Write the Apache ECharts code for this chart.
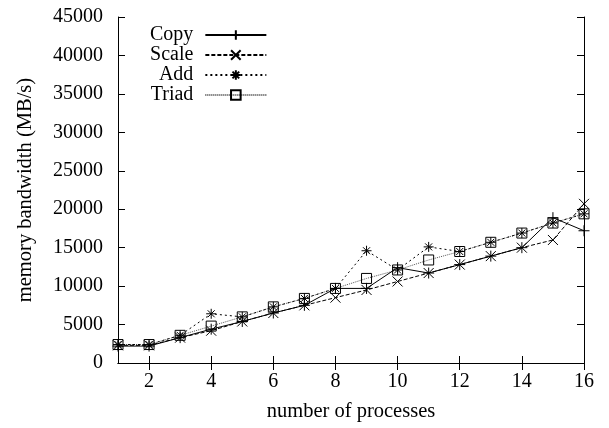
<!DOCTYPE html>
<html>
<head>
<meta charset="utf-8">
<script src="https://cdn.jsdelivr.net/npm/echarts@6/dist/echarts.min.js"></script>
<style>
html, body { margin: 0; padding: 0; background: #fff; }
#chart { width: 609px; height: 428px; }
</style>
</head>
<body>
<div id="chart"></div>
<script>
// 数据
var procs = ['1', '2', '3', '4', '5', '6', '7', '8', '9', '10', '11', '12', '13', '14', '15', '16'];
var copyData  = [2200, 2200, 3300, 4400, 5400, 6500, 7500, 9700, 9700, 12400, 11700, 12800, 13900, 15000, 18900, 17200];
var scaleData = [2300, 2300, 3300, 4200, 5400, 6500, 7500, 8500, 9500, 10600, 11700, 12800, 13900, 15000, 16000, 20700];
var addData   = [2400, 2400, 3600, 6400, 6000, 7300, 8400, 9700, 14600, 12100, 15100, 14500, 15700, 16900, 18200, 19400];
var triadData = [2400, 2400, 3600, 4800, 6000, 7300, 8400, 9700, 11000, 12100, 13400, 14500, 15700, 16900, 18200, 19400];

var chart = echarts.init(document.getElementById('chart'));
var FONT = 'Liberation Serif';
var FS = 20;

// 点的形状 (gnuplot 风格)
var SYM_PLUS  = 'path://M5,0L5,10M0,5L10,5';
var SYM_CROSS = 'path://M0,0L10,10M10,0L0,10';
var SYM_STAR  = 'path://M5,0L5,10M0,5L10,5M1.5,1.5L8.5,8.5M8.5,1.5L1.5,8.5';
var SYM_BOX   = 'path://M0,0L10,0L10,10L0,10Z';

function evenOnly(index, value) {
  return (index + 1) % 2 === 0;
}

function makeSeries(name, data, symbol, size, lineStyle) {
  return {
    name: name,
    type: 'line',
    data: data,
    symbol: symbol,
    symbolSize: size,
    showAllSymbol: true,
    itemStyle: { color: 'rgba(0,0,0,0)', borderColor: '#000', borderWidth: 1 },
    lineStyle: lineStyle,
    emphasis: { disabled: true }
  };
}

var option = {
  animation: false,
  backgroundColor: '#fff',
  grid: { left: 118, right: 25, top: 17, bottom: 65 },
  legend: {
    orient: 'vertical',
    left: 145,
    top: 20,
    align: 'right',
    itemWidth: 61,
    itemHeight: 12,
    itemGap: 0,
    data: ['Copy', 'Scale', 'Add', 'Triad'],
    formatter: function (name) { return '{a|' + name + '}'; },
    textStyle: {
      fontFamily: FONT,
      fontSize: FS,
      color: '#000',
      rich: { a: { fontFamily: FONT, fontSize: FS, color: '#000', width: 48, align: 'right', padding: [0, 7, 0, 0] } }
    }
  },
  xAxis: [
    {
      type: 'category',
      data: procs,
      boundaryGap: false,
      name: 'number of processes',
      nameLocation: 'middle',
      nameGap: 38,
      nameTextStyle: { fontFamily: FONT, fontSize: 20.5, color: '#000' },
      axisLine: { lineStyle: { color: '#000', width: 1 } },
      axisTick: { inside: true, length: 7, interval: evenOnly, lineStyle: { color: '#000' } },
      axisLabel: { interval: evenOnly, margin: 9, fontFamily: FONT, fontSize: FS, color: '#000' },
      splitLine: { show: false }
    },
    {
      type: 'category',
      data: procs,
      boundaryGap: false,
      position: 'top',
      axisLine: { lineStyle: { color: '#000', width: 1 } },
      axisTick: { inside: true, length: 7, interval: evenOnly, lineStyle: { color: '#000' } },
      axisLabel: { show: false },
      splitLine: { show: false }
    }
  ],
  yAxis: [
    {
      type: 'value',
      min: 0,
      max: 45000,
      interval: 5000,
      name: 'memory bandwidth (MB/s)',
      nameLocation: 'middle',
      nameGap: 82,
      nameTextStyle: { fontFamily: FONT, fontSize: 20.5, color: '#000' },
      axisLine: { show: true, lineStyle: { color: '#000', width: 1 } },
      axisTick: { show: true, inside: true, length: 7, lineStyle: { color: '#000' } },
      axisLabel: {
        margin: 15, fontFamily: FONT, fontSize: FS, color: '#000',
        formatter: function (v) { return String(v); }
      },
      splitLine: { show: false }
    },
    {
      type: 'value',
      min: 0,
      max: 45000,
      interval: 5000,
      position: 'right',
      axisLine: { show: true, lineStyle: { color: '#000', width: 1 } },
      axisTick: { show: true, inside: true, length: 7, lineStyle: { color: '#000' } },
      axisLabel: { show: false },
      splitLine: { show: false }
    }
  ],
  series: [
    makeSeries('Triad', triadData, SYM_BOX, 10, { color: '#555', width: 1, type: [1, 1] }),
    makeSeries('Add', addData, SYM_STAR, 10, { color: '#000', width: 1, type: [2, 3] }),
    makeSeries('Scale', scaleData, SYM_CROSS, 10, { color: '#000', width: 1, type: [4, 2] }),
    makeSeries('Copy', copyData, SYM_PLUS, 11, { color: '#000', width: 1, type: 'solid' })
  ]
};

chart.setOption(option);
</script>
</body>
</html>
